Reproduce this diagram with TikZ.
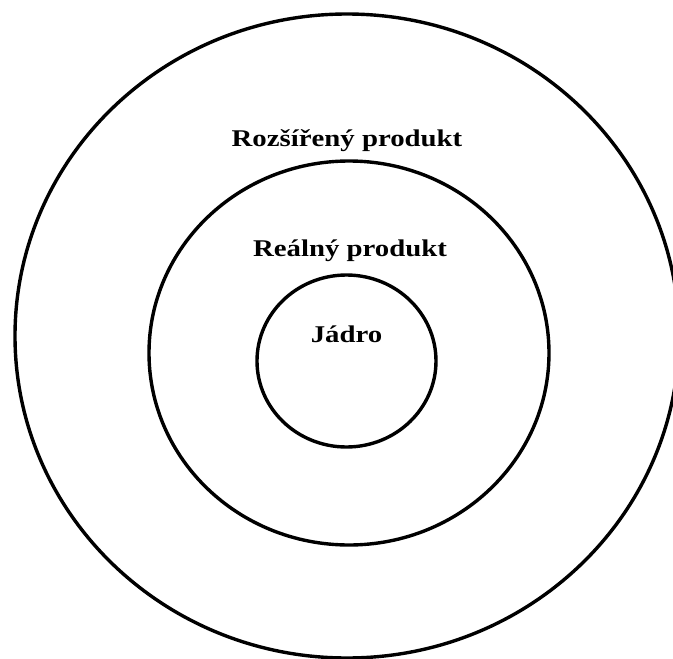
\documentclass[tikz,border=0pt]{standalone}
\usepackage{fontspec}
\setmainfont{Liberation Serif}
\usepackage{tikz}
\tikzset{
  ring/.style={line width=3.4pt},
  ringlabel/.style={
    font=\bfseries\fontsize{24}{28}\selectfont,
    inner sep=0pt, anchor=base, xscale=1.2
  }
}
\begin{document}
\begin{tikzpicture}
        [x=1pt,y=-1pt]
\useasboundingbox (0,0) rectangle (673,659);
\clip (0,0) rectangle (673,659);
% the three layers
\draw[ring] (347,336) ellipse (332 and 322);
\draw[ring] (349,353) ellipse (200 and 192);
\draw[ring] (346.5,361) ellipse (89.5 and 86);
\node[ringlabel] (rozsireny) at (347,146) {Rozšířený produkt};
\node[ringlabel] (realny) at (350,256) {Reálný produkt};
\node[ringlabel] (jadro) at (346.5,342) {Jádro};
\end{tikzpicture}
\end{document}
